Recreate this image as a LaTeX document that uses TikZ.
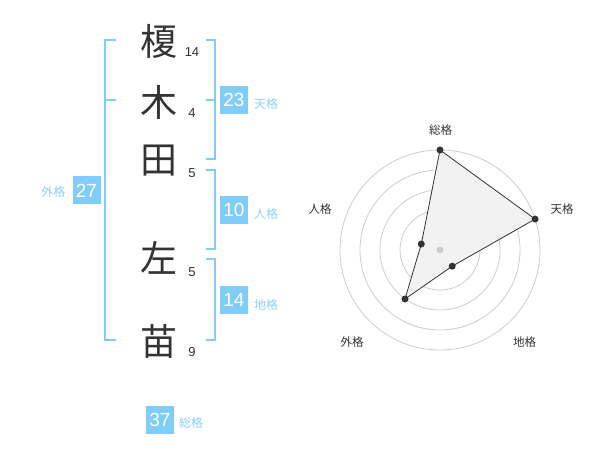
\documentclass[tikz,border=0pt]{standalone}
\usepackage{fontspec}
\setmainfont{Liberation Sans}
\newfontfamily\jp{Noto Sans CJK JP}
\definecolor{br}{HTML}{80CCFA}
\definecolor{bx}{HTML}{80CCFA}
\definecolor{lb}{HTML}{8FD0F5}
\definecolor{dk}{HTML}{333333}
\definecolor{ringc}{HTML}{CCCCCC}
\definecolor{polyf}{HTML}{F2F2F2}
\begin{document}
\begin{tikzpicture}[x=1pt,y=-1pt,
 kanji/.style={font=\jp\fontsize{37}{37}\selectfont, text=dk, inner sep=0},
 strokes/.style={font=\fontsize{13}{13}\selectfont, text=dk, inner sep=0},
 valbox/.style={fill=bx, text=white, font=\fontsize{19}{19}\selectfont, minimum width=28, minimum height=28, inner sep=0},
 lbl/.style={font=\jp\fontsize{12}{12}\selectfont, text=lb, inner sep=0},
 brk/.style={draw=br, line width=2},
 ring/.style={draw=ringc, line width=0.8},
 poly/.style={fill=polyf, draw=dk, line width=0.8},
 pt/.style={circle, fill=dk, inner sep=0, minimum size=7},
 ctr/.style={circle, fill=ringc, inner sep=0, minimum size=7},
 axl/.style={font=\jp\fontsize{11.5}{11.5}\selectfont, text=dk, inner sep=0}]
\useasboundingbox (0,0) rectangle (600,470);

% kanji
\node[kanji] (k1) at (159,41) {榎};
\node[kanji] (k2) at (159,102) {木};
\node[kanji] (k3) at (159,161) {田};
\node[kanji] (k4) at (159,258) {左};
\node[kanji] (k5) at (159,341) {苗};
% strokes
\node[strokes] (n1) at (192,52) {14};
\node[strokes] (n2) at (192,113) {4};
\node[strokes] (n3) at (192,173) {5};
\node[strokes] (n4) at (192,272) {5};
\node[strokes] (n5) at (192,352) {9};

% brackets
\draw[brk] (116,40) -- (105,40) -- (105,340) -- (116,340);
\draw[brk] (105,100) -- (116,100);
\draw[brk] (206,40) -- (215,40) -- (215,159) -- (206,159);
\draw[brk] (206,100) -- (215,100);
\draw[brk] (206,170) -- (215,170) -- (215,249) -- (206,249);
\draw[brk] (206,259) -- (215,259) -- (215,340) -- (206,340);

% value boxes
\node[valbox] (gai) at (86.5,190.5) {27};
\node[lbl] (gail) at (53.5,192) {外格};
\node[valbox] (ten) at (234,100) {23};
\node[lbl] (tenl) at (266,103.5) {天格};
\node[valbox] (jin) at (234,210) {10};
\node[lbl] (jinl) at (266,213.5) {人格};
\node[valbox] (chi) at (234,300) {14};
\node[lbl] (chil) at (266,304.5) {地格};
\node[valbox] (sou) at (160,419.5) {37};
\node[lbl] (soul) at (191,422.5) {総格};

% radar
\coordinate (c) at (440,250);
\foreach \r in {20,40,60,80,100} \draw[ring] (c) circle[radius=\r];
\coordinate (ps) at (440,150);
\coordinate (pt1) at (535.1,219.1);
\coordinate (pc) at (452.2,266.2);
\coordinate (pg) at (405,299);
\coordinate (pj) at (421.3,244);
\draw[poly] (ps) -- (pt1) -- (pc) -- (pg) -- (pj) -- cycle;
\node[ctr] (cd) at (c) {};
\node[pt] (d1) at (ps) {};
\node[pt] (d2) at (pt1) {};
\node[pt] (d3) at (pc) {};
\node[pt] (d4) at (pg) {};
\node[pt] (d5) at (pj) {};
\node[axl] (a1) at (440.5,130.5) {総格};
\node[axl] (a2) at (562,209) {天格};
\node[axl] (a3) at (524.5,342) {地格};
\node[axl] (a4) at (352,342) {外格};
\node[axl] (a5) at (320,209) {人格};
\end{tikzpicture}
\end{document}
